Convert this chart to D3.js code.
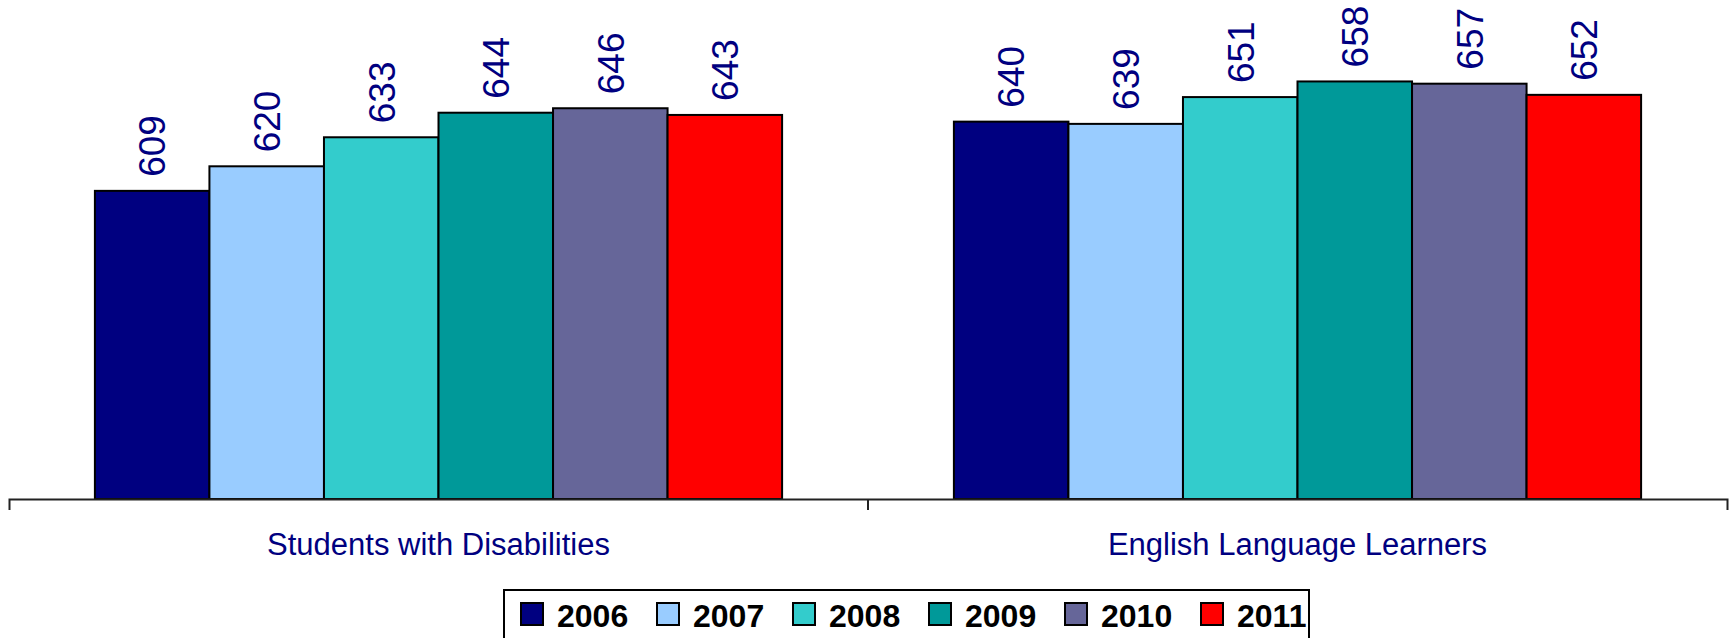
<!DOCTYPE html>
<html>
<head>
    <meta charset="utf-8">
    <title>Scores by group, 2006-2011</title>
    <style>
        body { margin: 0; background: #fff; }
        svg { display: block; font-family: "Liberation Sans", Arial, sans-serif; }
        .axis path, .axis line { fill: none; stroke: #222; stroke-width: 2px; }
        .axis text { font-size: 31px; fill: #000080; }
        .val { font-size: 37px; fill: #000080; }
        .legend text { font-size: 32px; font-weight: bold; fill: #000; }
    </style>
    <script src="https://d3js.org/d3.v7.min.js"></script>
</head>
<body>
<script>
  // categories and series
  var groups = ["Students with Disabilities", "English Language Learners"];
  var years = ["2006", "2007", "2008", "2009", "2010", "2011"];
  var disabilities = [609, 620, 633, 644, 646, 643];
  var ell = [640, 639, 651, 658, 657, 652];
  var colors = ["#000080", "#99CCFF", "#33CCCC", "#009999", "#666699", "#FF0000"];

  var width = 1731, height = 638;
  var baseY = 499;

  var rows = [disabilities, ell].map(function (vals, gi) {
    return years.map(function (y, i) {
      return {group: groups[gi], year: y, value: vals[i]};
    });
  });

  var svg = d3.select("body").append("svg")
    .attr("width", width)
    .attr("height", height);

  var x0 = d3.scaleBand()
    .domain(groups)
    .range([9, 1727])
    .paddingInner(0)
    .paddingOuter(0);

  // Excel gap width 150% -> 0.75 step on each side
  var x1 = d3.scaleBand()
    .domain(years)
    .range([0, x0.bandwidth()])
    .paddingInner(0)
    .paddingOuter(0.75);

  var yscale = d3.scaleLinear()
    .domain([471, 690])
    .range([baseY, 10]);

  var color = d3.scaleOrdinal().domain(years).range(colors);

  var g = svg.selectAll(".grp")
    .data(rows)
    .enter()
    .append("g")
    .attr("class", "grp")
    .attr("transform", function (d, i) { return "translate(" + x0(groups[i]) + ",0)"; });

  g.selectAll("rect")
    .data(function (d) { return d; })
    .enter()
    .append("rect")
    .attr("x", function (d) { return x1(d.year); })
    .attr("y", function (d) { return yscale(d.value); })
    .attr("width", x1.bandwidth())
    .attr("height", function (d) { return baseY - yscale(d.value); })
    .attr("fill", function (d) { return color(d.year); })
    .attr("stroke", "#000")
    .attr("stroke-width", 2);

  // value labels, rotated
  g.selectAll("text.val")
    .data(function (d) { return d; })
    .enter()
    .append("text")
    .attr("class", "val")
    .attr("transform", function (d) {
      return "translate(" + (x1(d.year) + x1.bandwidth() / 2) + "," + (yscale(d.value) - 14) + ") rotate(-90)";
    })
    .attr("dy", "0.36em")
    .attr("text-anchor", "start")
    .text(function (d) { return d.value; });

  // category axis
  var axis = svg.append("g")
    .attr("class", "axis")
    .attr("transform", "translate(0," + baseY + ")")
    .call(d3.axisBottom(x0).tickSizeInner(0).tickSizeOuter(11).tickPadding(34));
  axis.selectAll(".tick text").attr("dy", "0.71em");

  // tick between the two categories
  axis.selectAll(".sep")
    .data(groups.slice(1))
    .enter()
    .append("line")
    .attr("x1", function (d) { return x0(d); })
    .attr("x2", function (d) { return x0(d); })
    .attr("y1", 0)
    .attr("y2", 11);

  // legend
  var legend = svg.append("g").attr("class", "legend");
  legend.append("rect")
    .attr("x", 504).attr("y", 590)
    .attr("width", 805).attr("height", 70)
    .attr("fill", "#fff")
    .attr("stroke", "#000")
    .attr("stroke-width", 2);

  var item = legend.selectAll(".item")
    .data(years)
    .enter()
    .append("g")
    .attr("class", "item")
    .attr("transform", function (d, i) { return "translate(" + (521 + i * 136) + ",603)"; });

  item.append("rect")
    .attr("width", 22)
    .attr("height", 22)
    .attr("fill", function (d) { return color(d); })
    .attr("stroke", "#000")
    .attr("stroke-width", 2);

  item.append("text")
    .attr("x", 36)
    .attr("y", 24)
    .text(function (d) { return d; });
</script>
</body>
</html>
